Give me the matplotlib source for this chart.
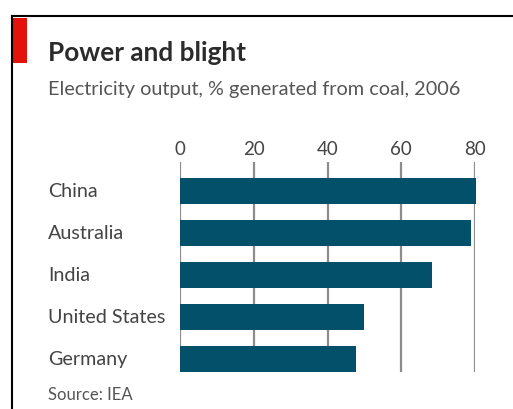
import matplotlib.pyplot as plt
from matplotlib.patches import Rectangle
from matplotlib.lines import Line2D
from matplotlib.transforms import blended_transform_factory

plt.rcParams['font.family'] = ['Lato', 'DejaVu Sans']

countries = ['China', 'Australia', 'India', 'United States', 'Germany']
coal_share = [80.3, 78.9, 68.3, 49.8, 47.6]
ticks = [0, 20, 40, 60, 80]

W, H = 513, 409
fig = plt.figure(figsize=(W / 100, H / 100), dpi=100)

# frame and red tag
fig.add_artist(Line2D([12 / W, 12 / W], [0, 1 - 16 / H], color='black', lw=1.5))
fig.add_artist(Line2D([12 / W, 1], [1 - 16 / H, 1 - 16 / H], color='black', lw=1.5))
fig.add_artist(Rectangle((13 / W, 1 - 63 / H), 14 / W, 45 / H, color='#e3120b', lw=0))

fig.text(48 / W, 1 - 53 / H, 'Power and blight', fontsize=18.8, fontweight='bold',
         color='#2b2b2b', va='center', ha='left')
fig.text(48 / W, 1 - 89 / H, 'Electricity output, % generated from coal, 2006', fontsize=14.3,
         color='#555555', va='center', ha='left')
fig.text(48 / W, 1 - 395 / H, 'Source: IEA', fontsize=12, color='#555555', va='center', ha='left')

left, right, top, bottom = 180.3, 475, 162, 372
ax = fig.add_axes([left / W, 1 - bottom / H, (right - left) / W, (bottom - top) / H])
pos = list(range(len(countries)))
ax.set_xlim(0, 80)
ax.set_ylim(4.31, -0.70)
for t in ticks:
    ax.axvline(t, color='#8c8c8c', lw=1.6, zorder=1)
ax.barh(pos, coal_share, height=0.62, color='#03506b', zorder=2, clip_on=False)

ax.xaxis.tick_top()
ax.set_xticks(ticks)
ax.set_xticklabels([str(t) for t in ticks], fontsize=13.5, color='#444444')
ax.tick_params(axis='x', length=0, pad=3)
ax.set_yticks([])
trans = blended_transform_factory(fig.transFigure, ax.transData)
for p, c in zip(pos, countries):
    ax.text(48 / W, p, c, transform=trans, fontsize=14.2, color='#444444', va='center', ha='left')
for s in ax.spines.values():
    s.set_visible(False)

fig.savefig('out.png', dpi=100)
